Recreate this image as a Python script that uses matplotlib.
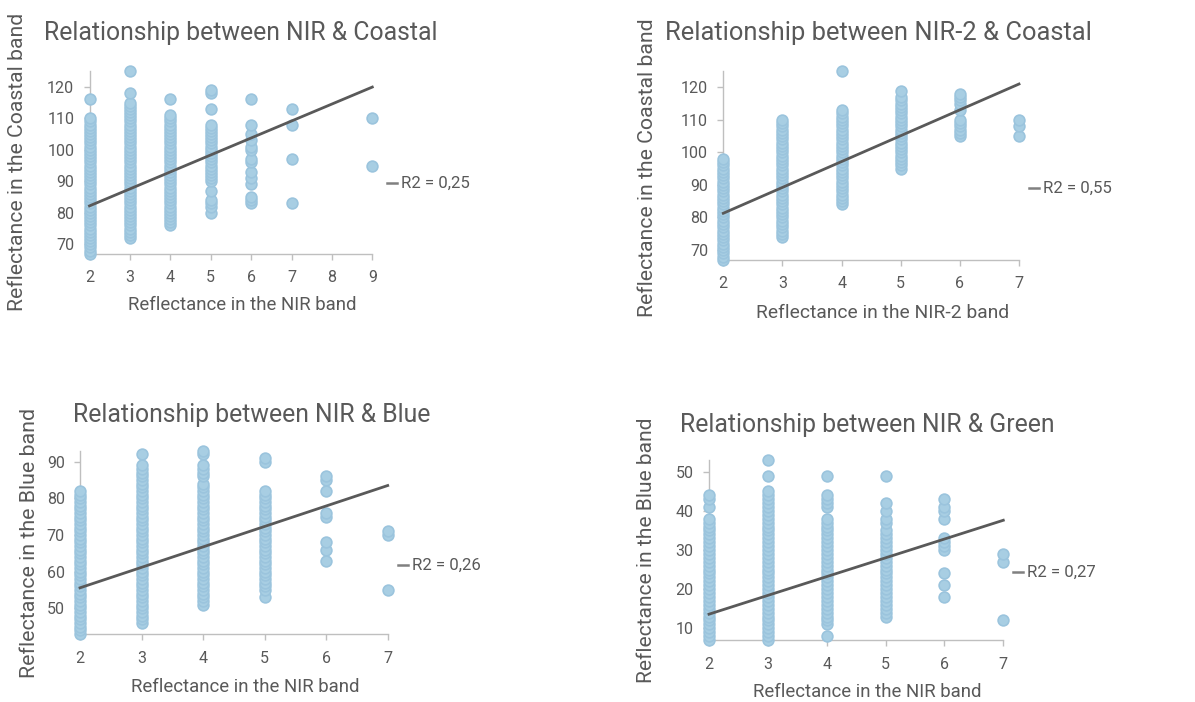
import matplotlib.pyplot as plt
from matplotlib.lines import Line2D

plt.rcParams['font.family'] = ['Roboto', 'DejaVu Sans']

# ---- data (integer reflectance values) ----
# NIR vs Coastal
nc_x = [2, 3, 4, 5, 6, 7, 9]
nc_y = [
    [67, 68, 69, 70, 71, 72, 73, 74, 75, 76, 77, 78, 79, 80, 81, 82, 83, 84, 85, 86, 87, 88,
     89, 90, 91, 92, 93, 94, 95, 96, 97, 98, 99, 100, 101, 102, 103, 104, 105, 106, 107, 108,
     109, 110, 116],
    [72, 73, 74, 75, 76, 77, 78, 79, 80, 81, 82, 83, 84, 85, 86, 87, 88, 89, 90, 91, 92, 93,
     94, 95, 96, 97, 98, 99, 100, 101, 102, 103, 104, 105, 106, 107, 108, 109, 110, 111, 112,
     113, 114, 115, 118, 125],
    [76, 77, 78, 79, 80, 81, 82, 83, 84, 85, 86, 87, 88, 89, 90, 91, 92, 93, 94, 95, 96, 97,
     98, 99, 100, 101, 102, 103, 104, 105, 106, 107, 108, 109, 110, 111, 116],
    [80, 82, 83, 84, 87, 90, 91, 92, 93, 94, 95, 96, 97, 98, 99, 100, 101, 102, 103, 104, 105,
     106, 107, 108, 113, 118, 119],
    [83, 84, 85, 89, 91, 93, 96, 97, 100, 101, 103, 105, 108, 116],
    [83, 97, 108, 113],
    [95, 110],
]
nc_trend_x = [2, 9]
nc_trend_y = [82.2, 119.9]
nc_r2 = "R2 = 0,25"

# NIR-2 vs Coastal
n2c_x = [2, 3, 4, 5, 6, 7]
n2c_y = [
    [67, 68, 69, 70, 71, 72, 73, 74, 75, 76, 77, 78, 79, 80, 81, 82, 83, 84, 85, 86, 87, 88,
     89, 90, 91, 92, 93, 94, 95, 96, 97, 98],
    [74, 75, 76, 77, 78, 79, 80, 81, 82, 83, 84, 85, 86, 87, 88, 89, 90, 91, 92, 93, 94, 95,
     96, 97, 98, 99, 100, 101, 102, 103, 104, 105, 106, 107, 108, 109, 110],
    [84, 85, 86, 87, 88, 89, 90, 91, 92, 93, 94, 95, 96, 97, 98, 99, 100, 101, 102, 103, 104,
     105, 106, 107, 108, 109, 110, 111, 112, 113, 125],
    [95, 96, 97, 98, 99, 100, 101, 102, 103, 104, 105, 106, 107, 108, 109, 110, 111, 112, 113,
     114, 115, 116, 117, 119],
    [105, 106, 107, 108, 109, 110, 113, 115, 116, 117, 118],
    [105, 108, 110],
]
n2c_trend_x = [2, 7]
n2c_trend_y = [81.3, 121.0]
n2c_r2 = "R2 = 0,55"

# NIR vs Blue
nb_x = [2, 3, 4, 5, 6, 7]
nb_y = [
    [43, 44, 45, 46, 47, 48, 49, 50, 51, 52, 53, 54, 55, 56, 57, 58, 59, 60, 61, 62, 63, 64,
     65, 66, 67, 68, 69, 70, 71, 72, 73, 74, 75, 76, 77, 78, 79, 80, 81, 82],
    [46, 47, 48, 49, 50, 51, 52, 53, 54, 55, 56, 57, 58, 59, 60, 61, 62, 63, 64, 65, 66, 67,
     68, 69, 70, 71, 72, 73, 74, 75, 76, 77, 78, 79, 80, 81, 82, 83, 84, 85, 86, 87, 88, 89, 92],
    [51, 52, 53, 54, 55, 56, 57, 58, 59, 60, 61, 62, 63, 64, 65, 66, 67, 68, 69, 70, 71, 72,
     73, 74, 75, 76, 77, 78, 79, 80, 81, 82, 83, 84, 86, 87, 88, 89, 92, 93],
    [53, 55, 56, 57, 58, 59, 60, 61, 62, 63, 64, 65, 66, 67, 68, 69, 70, 71, 72, 73, 74, 75,
     76, 77, 78, 79, 80, 81, 82, 90, 91],
    [63, 66, 68, 75, 76, 82, 85, 86],
    [55, 70, 71],
]
nb_trend_x = [2, 7]
nb_trend_y = [55.6, 83.5]
nb_r2 = "R2 = 0,26"

# NIR vs Green
ng_x = [2, 3, 4, 5, 6, 7]
ng_y = [
    [7, 8, 9, 10, 11, 12, 13, 14, 15, 16, 17, 18, 19, 20, 21, 22, 23, 24, 25, 26, 27, 28, 29,
     30, 31, 32, 33, 34, 35, 36, 37, 38, 41, 43, 44],
    [7, 8, 9, 10, 11, 12, 13, 14, 15, 16, 17, 18, 19, 20, 21, 22, 23, 24, 25, 26, 27, 28, 29,
     30, 31, 32, 33, 34, 35, 36, 37, 38, 39, 40, 41, 42, 43, 44, 45, 49, 53],
    [8, 11, 12, 13, 14, 15, 16, 17, 18, 19, 20, 21, 22, 23, 24, 25, 26, 27, 28, 29, 30, 31,
     32, 33, 34, 35, 36, 37, 38, 41, 42, 43, 44, 49],
    [13, 14, 15, 16, 17, 18, 19, 20, 21, 22, 23, 24, 25, 26, 27, 28, 29, 30, 31, 32, 33, 34,
     35, 37, 38, 40, 42, 49],
    [18, 21, 24, 30, 31, 32, 33, 38, 40, 41, 43],
    [12, 27, 29],
]
ng_trend_x = [2, 7]
ng_trend_y = [13.6, 37.6]
ng_r2 = "R2 = 0,27"

W, H = 1195, 702
TEXT = '#595959'
AXIS = '#bfbfbf'
DOT_FACE = '#a8cee3'
DOT_EDGE = '#9bc4dd'
TREND = '#595959'

fig = plt.figure(figsize=(W / 100, H / 100), dpi=100)
renderer = fig.canvas.get_renderer()


def fit_text(t, target_px):
    bb = t.get_window_extent(renderer)
    size = max(bb.width, bb.height)
    t.set_fontsize(t.get_fontsize() * target_px / size)


def panel(xs, ys, tx, ty, r2, box, ylim, yticks, title, xlabel, ylabel, spec):
    x0, x1, ytop, ybot = box
    ax = fig.add_axes([x0 / W, 1 - ybot / H, (x1 - x0) / W, (ybot - ytop) / H])
    for x, col in zip(xs, ys):
        ax.scatter([x] * len(col), col, s=60, color=DOT_FACE, edgecolor=DOT_EDGE,
                   linewidth=1.2, zorder=3, clip_on=False)
    ax.plot(tx, ty, color=TREND, lw=2.0, zorder=4, clip_on=False)
    ax.set_xlim(xs[0], xs[-1])
    ax.set_ylim(*ylim)
    ax.set_xticks(list(range(xs[0], xs[-1] + 1)))
    ax.set_yticks(yticks)
    for s in ['top', 'right']:
        ax.spines[s].set_visible(False)
    for s in ['left', 'bottom']:
        ax.spines[s].set_color(AXIS)
        ax.spines[s].set_linewidth(1.0)
        ax.spines[s].set_zorder(1)
    ax.tick_params(axis='both', colors=AXIS, labelcolor=TEXT, length=4, width=1,
                   labelsize=11.5)
    ax.tick_params(axis='x', pad=8)
    ax.tick_params(axis='y', pad=7)
    ax.patch.set_alpha(0)

    t = fig.text(spec['title'][0] / W, 1 - spec['title'][1] / H, title, ha='left',
                 va='center', color=TEXT, fontsize=16)
    fit_text(t, spec['title'][2])
    t = fig.text(spec['xlabel'][0] / W, 1 - spec['xlabel'][1] / H, xlabel, ha='center',
                 va='center', color=TEXT, fontsize=12)
    fit_text(t, spec['xlabel'][2])
    t = fig.text(spec['ylabel'][0] / W, 1 - spec['ylabel'][1] / H, ylabel, ha='center',
                 va='center', rotation=90, color=TEXT, fontsize=12)
    fit_text(t, spec['ylabel'][2])
    lx, ly = spec['r2']
    fig.add_artist(Line2D([lx / W, (lx + 10) / W], [1 - ly / H, 1 - ly / H],
                          transform=fig.transFigure, color='#808080', lw=1.8))
    t = fig.text((lx + 14) / W, 1 - ly / H, r2, ha='left', va='center', color=TEXT,
                 fontsize=11)
    fit_text(t, 69)
    return ax


panel(nc_x, nc_y, nc_trend_x, nc_trend_y, nc_r2,
      (89.5, 372.3, 71, 253.8), (67, 125), [70, 80, 90, 100, 110, 120],
      "Relationship between NIR & Coastal", "Reflectance in the NIR band",
      "Reflectance in the Coastal band",
      {'title': (44, 33, 393), 'xlabel': (242, 305, 228), 'ylabel': (18, 161.5, 297),
       'r2': (387, 183)})

panel(n2c_x, n2c_y, n2c_trend_x, n2c_trend_y, n2c_r2,
      (723.3, 1019, 71, 259.8), (67, 125), [70, 80, 90, 100, 110, 120],
      "Relationship between NIR-2 & Coastal", "Reflectance in the NIR-2 band",
      "Reflectance in the Coastal band",
      {'title': (665, 33, 428), 'xlabel': (883, 313, 253), 'ylabel': (648, 167.5, 299),
       'r2': (1029, 188)})

panel(nb_x, nb_y, nb_trend_x, nb_trend_y, nb_r2,
      (80, 387.7, 450.7, 634), (43, 93), [50, 60, 70, 80, 90],
      "Relationship between NIR & Blue", "Reflectance in the NIR band",
      "Reflectance in the Blue band",
      {'title': (73, 415, 359), 'xlabel': (245, 687, 228), 'ylabel': (30, 543, 270),
       'r2': (398, 565)})

panel(ng_x, ng_y, ng_trend_x, ng_trend_y, ng_r2,
      (709, 1003.3, 460, 640), (7, 53), [10, 20, 30, 40, 50],
      "Relationship between NIR & Green", "Reflectance in the NIR band",
      "Reflectance in the Blue band",
      {'title': (680, 425, 375), 'xlabel': (867, 692, 228), 'ylabel': (647, 550.5, 265),
       'r2': (1013, 572)})

fig.savefig('out.png', dpi=100, facecolor='white')
